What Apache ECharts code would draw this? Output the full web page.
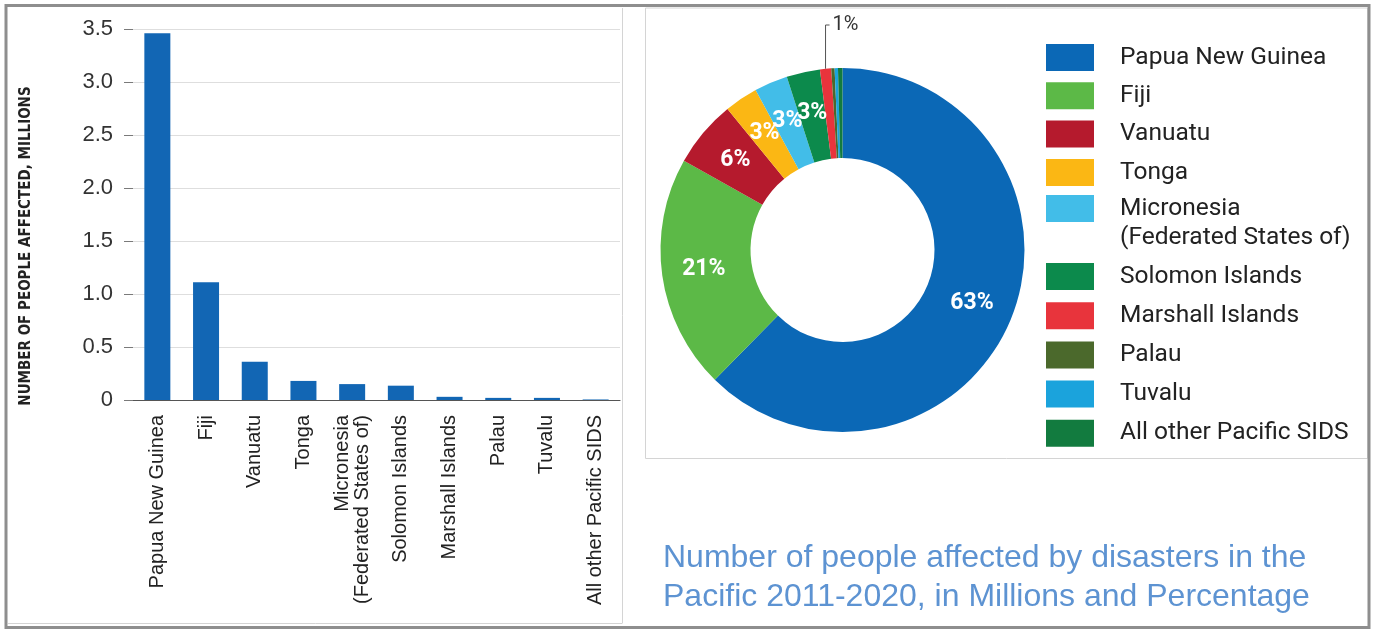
<!DOCTYPE html>
<html>
<head>
<meta charset="utf-8">
<title>People affected by disasters in the Pacific 2011-2020</title>
<script src="https://cdn.jsdelivr.net/npm/echarts@6/dist/echarts.min.js"></script>
<style>
  html, body { margin: 0; padding: 0; background: #ffffff; }
  #chart { width: 1374px; height: 633px; }
</style>
</head>
<body>
<div id="chart"></div>
<script>
// Countries, in the order used by both the bars and the donut
const categories = [
  'Papua New Guinea', 'Fiji', 'Vanuatu', 'Tonga',
  'Micronesia (Federated States of)', 'Solomon Islands',
  'Marshall Islands', 'Palau', 'Tuvalu', 'All other Pacific SIDS'
];

// People affected 2011-2020, millions
const affectedMillions = [3.46, 1.11, 0.36, 0.18, 0.15, 0.135, 0.03, 0.02, 0.02, 0.005];

// Share of all people affected, percent
const sharePercent = [63, 21, 6, 3, 3, 3, 1, 0.3, 0.3, 0.4];

// Number of leading slices that carry a percentage label
const labelledSlices = 7;

// Value axis ticks (millions)
const yMin = 0;
const yMax = 3.5;
const yStep = 0.5;

const yAxisTitle = 'NUMBER OF PEOPLE AFFECTED, MILLIONS';
const chartTitle = 'Number of people affected by disasters in the\nPacific 2011-2020, in Millions and Percentage';

const sliceColors = [
  '#0b68b6', '#5cb947', '#b51a2d', '#fbb714', '#42bde8',
  '#0c8a4c', '#e8343c', '#4b692c', '#1ba3dc', '#127b3f'
];

const chart = echarts.init(document.getElementById('chart'), null, { renderer: 'canvas' });

const splitName = n => n.replace(' (', '\n(');

const pieData = categories.map((name, i) => {
  const item = { name: name, value: sharePercent[i], itemStyle: { color: sliceColors[i] } };
  if (i === labelledSlices - 1) {
    item.label = { position: 'outside', color: '#333333', fontWeight: 'normal', fontSize: 20 };
    item.labelLine = { show: true, length: 40, length2: 5, lineStyle: { color: '#555555', width: 1 } };
  } else if (i >= labelledSlices) {
    item.label = { show: false };
  }
  return item;
});

// Legend is split in three stacks so the two-line entry keeps its swatch
// level with the first line of its name.
const legendBase = {
  orient: 'vertical',
  left: 1046,
  padding: 0,
  itemWidth: 48,
  itemHeight: 27,
  itemGap: 9.3,
  icon: 'rect',
  selectedMode: false,
  textStyle: {
    fontFamily: 'Roboto',
    fontSize: 24.5,
    lineHeight: 29,
    color: '#222222',
    padding: [0, 0, 0, 21]
  }
};

const option = {
  backgroundColor: '#ffffff',
  animation: false,
  title: {
    text: chartTitle,
    left: 663,
    top: 539,
    padding: 0,
    textStyle: {
      fontFamily: 'Liberation Sans',
      fontWeight: 'normal',
      fontSize: 32,
      lineHeight: 39,
      color: '#5d93d2'
    }
  },
  graphic: [
    // outer frame
    { type: 'rect', shape: { x: 6, y: 5.5, width: 1363, height: 622 },
      style: { fill: 'none', stroke: '#8e8e8e', lineWidth: 3 }, z: 10 },
    // bar panel edges
    { type: 'line', shape: { x1: 622.5, y1: 8, x2: 622.5, y2: 623 },
      style: { stroke: '#d4d4d4', lineWidth: 1 } },
    { type: 'line', shape: { x1: 8, y1: 623.5, x2: 622.5, y2: 623.5 },
      style: { stroke: '#d4d4d4', lineWidth: 1 } },
    // donut panel
    { type: 'rect', shape: { x: 645.5, y: 8, width: 722, height: 450.5 },
      style: { fill: 'none', stroke: '#d4d4d4', lineWidth: 1 } },
    // value axis title
    { type: 'text', x: 26, y: 246, rotation: Math.PI / 2,
      style: { text: yAxisTitle, align: 'center', verticalAlign: 'middle',
        font: 'bold 15px "DejaVu Sans Condensed", "Liberation Sans Narrow", "Liberation Sans", sans-serif',
        fill: '#222222' } }
  ],
  grid: { left: 133, right: 754, top: 29, bottom: 233 },
  xAxis: {
    type: 'category',
    data: categories,
    axisLine: { show: true, lineStyle: { color: '#555555', width: 1.2 } },
    axisTick: { show: false },
    axisLabel: {
      rotate: 90,
      margin: 15,
      interval: 0,
      fontFamily: 'Liberation Sans',
      fontSize: 20,
      lineHeight: 20,
      color: '#222222',
      formatter: splitName
    }
  },
  yAxis: {
    type: 'value',
    min: yMin,
    max: yMax,
    interval: yStep,
    axisLine: { show: false },
    axisTick: { show: true, length: 9, lineStyle: { color: '#7a7a7a' } },
    axisLabel: {
      margin: 20,
      fontFamily: 'Liberation Sans',
      fontSize: 22,
      color: '#333333',
      formatter: v => (v === 0 ? '0' : v.toFixed(1))
    },
    splitLine: { show: true, lineStyle: { color: '#dedede', width: 1 } }
  },
  legend: [
    Object.assign({}, legendBase, {
      top: 43,
      data: categories.slice(0, 4)
    }),
    Object.assign({}, legendBase, {
      top: 165,
      formatter: n => '\n' + splitName(n),
      data: categories.slice(4, 5)
    }),
    Object.assign({}, legendBase, {
      top: 262,
      itemGap: 10.2,
      data: categories.slice(5)
    })
  ],
  series: [
    {
      type: 'bar',
      name: 'People affected',
      data: affectedMillions,
      barWidth: 26,
      itemStyle: { color: '#1266b4' }
    },
    {
      type: 'pie',
      name: 'Share',
      center: [842.5, 250],
      radius: [92, 182],
      startAngle: 90,
      clockwise: true,
      avoidLabelOverlap: false,
      label: {
        show: true,
        position: 'inside',
        formatter: '{c}%',
        fontFamily: 'Roboto',
        fontWeight: 'bold',
        fontSize: 23,
        color: '#ffffff'
      },
      labelLine: { show: false },
      labelLayout: function (params) {
        if (params.dataIndex !== labelledSlices - 1 || !params.labelLinePoints) return {};
        const start = params.labelLinePoints[0];
        const topY = 25;
        return {
          x: start[0] + 7,
          y: topY,
          align: 'left',
          verticalAlign: 'middle',
          labelLinePoints: [start, [start[0], topY], [start[0] + 4, topY]]
        };
      },
      data: pieData
    }
  ]
};

chart.setOption(option);
</script>
</body>
</html>
